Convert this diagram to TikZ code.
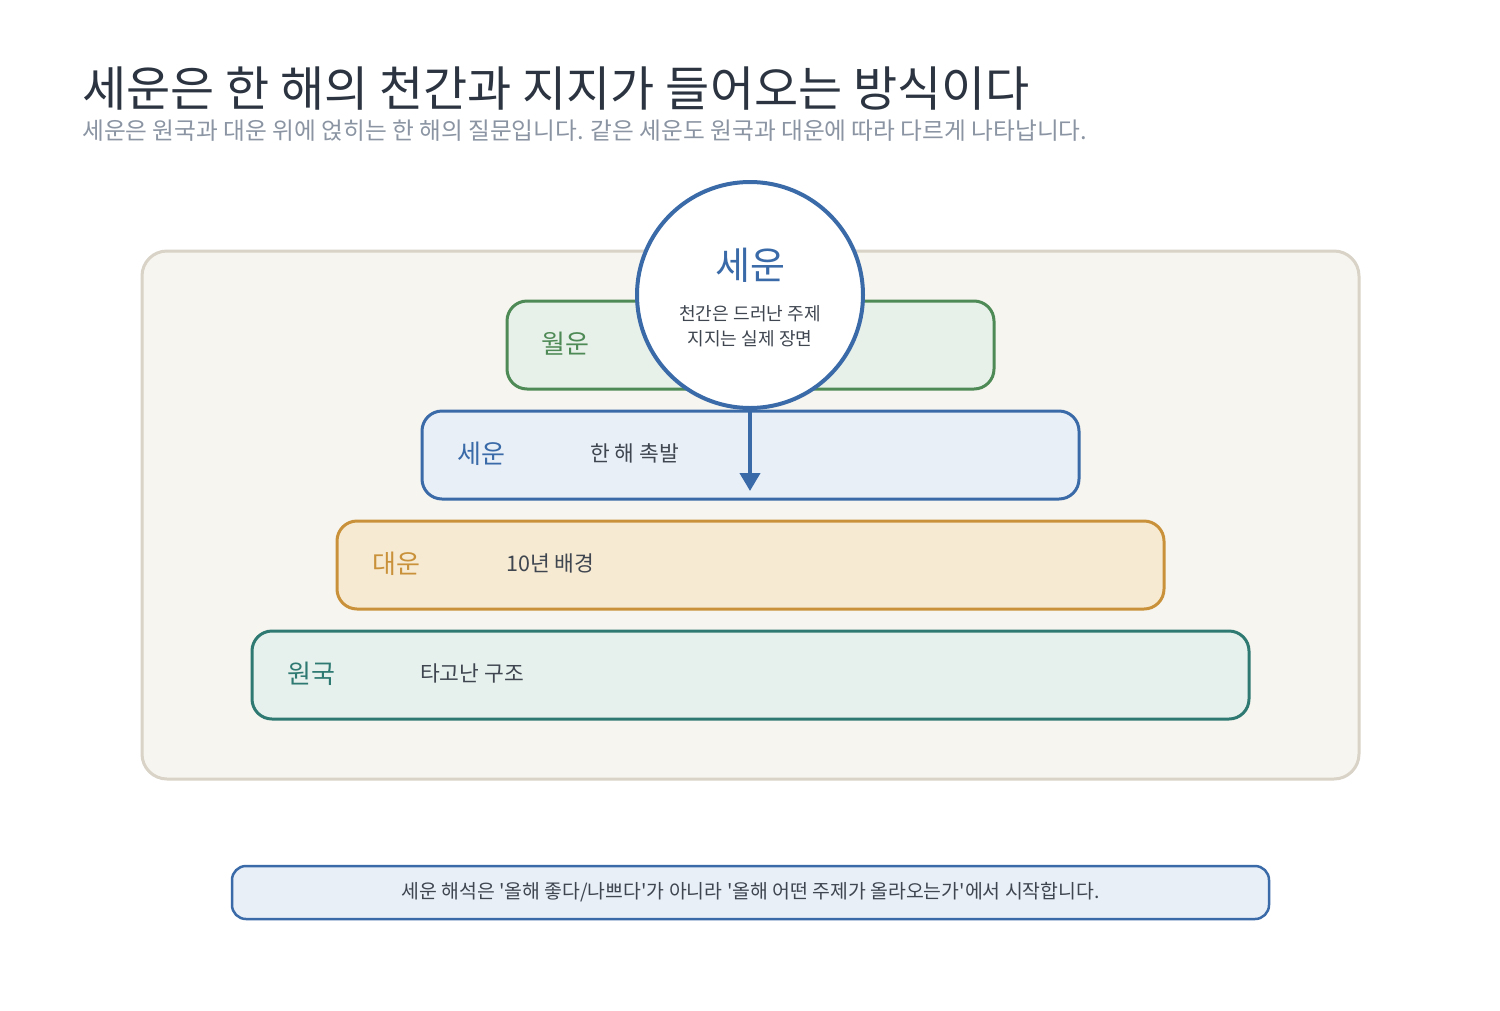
\documentclass[tikz,border=0pt]{standalone}
\usepackage{fontspec}
\setmainfont{Noto Sans CJK KR}
\newfontfamily\plainkr{Noto Sans CJK KR}
\usetikzlibrary{arrows.meta}

\definecolor{inkdark}{HTML}{2B3440}
\definecolor{inkgray}{HTML}{8A94A2}
\definecolor{textgray}{HTML}{3F4650}
\definecolor{panelfill}{HTML}{F7F5EF}
\definecolor{panelline}{HTML}{D9D3C7}
\definecolor{greenline}{HTML}{4E8A55}
\definecolor{greenfill}{HTML}{E8F0EA}
\definecolor{blueline}{HTML}{3A6AA8}
\definecolor{bluefill}{HTML}{E8EFF7}
\definecolor{goldline}{HTML}{C9923A}
\definecolor{goldfill}{HTML}{F7EAD2}
\definecolor{tealline}{HTML}{2E7A72}
\definecolor{tealfill}{HTML}{E6F0EC}

\tikzset{
  bar/.style={draw, line width=3pt, rounded corners=20pt, minimum height=88pt, inner sep=0pt},
  barlabel/.style={anchor=west, font=\fontsize{26}{30}\selectfont, inner sep=0pt},
  bartext/.style={anchor=west, font=\fontsize{21.5}{25}\selectfont, text=textgray, inner sep=0pt}
}

\begin{document}
\begin{tikzpicture}[x=1pt,y=-1pt]
\useasboundingbox[fill=white] (0,0) rectangle (1500,1010);

\node[anchor=base west, inner sep=0pt, text=inkdark, font=\fontsize{48}{54}\selectfont] (title) at (82,106) {세운은 한 해의 천간과 지지가 들어오는 방식이다};
\node[anchor=base west, inner sep=0pt, text=inkgray, font=\fontsize{23.7}{28}\selectfont] (subtitle) at (82,139) {세운은 원국과 대운 위에 얹히는 한 해의 질문입니다. 같은 세운도 원국과 대운에 따라 다르게 나타납니다.};

\node[draw=panelline, fill=panelfill, line width=3pt, rounded corners=25pt, minimum width=1217pt, minimum height=528pt, inner sep=0pt] (panel) at (750.5,515) {};

\node[bar, draw=greenline, fill=greenfill, minimum width=487pt] (wolun) at (750.5,345) {};
\node[bar, draw=blueline, fill=bluefill, minimum width=657pt] (seun) at (750.5,455) {};
\node[bar, draw=goldline, fill=goldfill, minimum width=827pt] (daeun) at (750.5,565) {};
\node[bar, draw=tealline, fill=tealfill, minimum width=997pt] (wonguk) at (750.5,675) {};

\node[barlabel, text=greenline] (wolunlbl) at (541,344) {월운};
\node[barlabel, text=blueline] (seunlbl) at (457,454) {세운};
\node[bartext] (seuntxt) at (590,453) {한 해 촉발};
\node[barlabel, text=goldline] (daeunlbl) at (372,564) {대운};
\node[bartext] (daeuntxt) at (506,563) {10년 배경};
\node[barlabel, text=tealline] (wonguklbl) at (287,674) {원국};
\node[bartext] (wonguktxt) at (420,673) {타고난 구조};

\node[circle, draw=blueline, fill=white, line width=4pt, minimum size=226pt, inner sep=0pt] (seunball) at (750,295) {};
\node[text=blueline, font=\fontsize{38}{44}\selectfont, inner sep=0pt] (balltitle) at (750,265) {세운};
\node[text=textgray, font=\fontsize{18.1}{25}\selectfont, align=center, inner sep=0pt] (balltext) at (750,326) {천간은 드러난 주제\\지지는 실제 장면};

\coordinate (arrowend) at (750,491);
\draw[blueline, line width=4pt, -{Triangle[width=20pt,length=18pt]}] (seunball.south) -- (arrowend);

\node[draw=blueline, fill=bluefill, line width=2.5pt, rounded corners=14pt, minimum width=1037pt, minimum height=53pt, inner sep=0pt, text=textgray, font=\plainkr\fontsize{19.4}{23}\selectfont] (note) at (750.5,892.5) {세운 해석은 '올해 좋다/나쁘다'가 아니라 '올해 어떤 주제가 올라오는가'에서 시작합니다.};
\end{tikzpicture}
\end{document}
